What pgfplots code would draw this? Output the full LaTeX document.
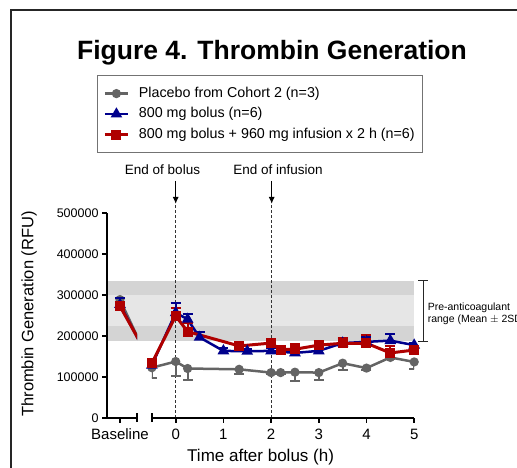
\documentclass[border=0pt]{standalone}
\usepackage{pgfplots}
\usepackage{pgfplotstable}
\pgfplotsset{compat=1.18}
\usepackage{fontspec}
\setmainfont{Liberation Sans}
\usetikzlibrary{arrows.meta}

\definecolor{plgray}{RGB}{100,100,100}
\definecolor{plblue}{RGB}{0,0,140}
\definecolor{plred}{RGB}{175,0,0}
\definecolor{banddark}{RGB}{212,212,212}
\definecolor{bandlight}{RGB}{230,230,230}

% t = time after bolus (h), baseline plotted at -1.168
\pgfplotstableread{
t      y      e
-1.168 288000 5000
-0.5   122000 26000
0      137000 35000
0.25   120000 28000
1.33   118000 11000
2      110000 4000
2.2    110000 4000
2.5    111000 21000
3      110000 18000
3.5    133000 17000
4      121000 4000
4.5    147000 4000
5      136000 17000
}\placebo

\pgfplotstableread{
t      y      e
-1.168 276000 15000
-0.5   128000 8000
0      256000 24000
0.25   240000 14000
0.5    196000 12000
1      163000 6000
1.5    162000 6000
2      163000 8000
2.5    158000 8000
3      163000 10000
3.5    182000 10000
4      185000 12000
4.5    188000 15000
5      177000 5000
}\bolus

\pgfplotstableread{
t      y      e
-1.168 272000 10000
-0.5   133000 10000
0      248000 20000
0.25   210000 20000
1.33   175000 8000
2      182000 11000
2.2    166000 8000
2.5    167000 12000
3      177000 10000
3.5    181500 14000
4      181500 19000
4.5    158000 17000
5      165000 5000
}\infusion

\pgfplotsset{
  common/.style={
    scale only axis, height=205pt, ymin=0, ymax=500000,
    tick align=outside, major tick length=5pt,
    axis line style={line width=2pt},
    tick style={line width=1.8pt, black},
    scaled y ticks=false,
    /pgf/number format/assume math mode=true,
    xticklabel style={font=\fontsize{15}{18}\selectfont, yshift=-2.5pt},
  },
  sgray/.style={plgray, line width=2.5pt, mark=*, mark size=3.3pt,
    mark options={solid, fill=plgray},
    error bars/.cd, y dir=minus, y explicit,
    error bar style={line width=2pt, solid},
    error mark options={rotate=90, line width=2pt, mark size=5pt}},
  sblue/.style={plblue, line width=2.5pt, mark=triangle*, mark size=4.3pt,
    mark options={solid, fill=plblue},
    error bars/.cd, y dir=plus, y explicit,
    error bar style={line width=2pt, solid},
    error mark options={rotate=90, line width=2pt, mark size=5pt}},
  sred/.style={plred, line width=3pt, mark=square*, mark size=3.5pt,
    mark options={solid, fill=plred},
    error bars/.cd, y dir=plus, y explicit,
    error bar style={line width=2pt, solid},
    error mark options={rotate=90, line width=2pt, mark size=5pt}},
}

\begin{document}
\begin{tikzpicture}
\useasboundingbox (0pt,0pt) rectangle (517pt,-468pt);

% frame
\draw[line width=1.4pt, black!85] (11pt,-470pt) -- (11pt,-10pt) -- (520pt,-10pt);

\node[font=\bfseries\fontsize{26.5}{30}\selectfont, anchor=base] at (272pt,-60pt) {Figure 4. Thrombin Generation};

% background: reference band, dashed markers
\begin{axis}[common, at={(107pt,-417.7pt)}, anchor=south west,
  width=307.2pt, xmin=-1.44, xmax=5, axis lines=none, clip=false]
  \addplot[fill=banddark, draw=none] coordinates {(-1.44,186000) (5,186000) (5,334000) (-1.44,334000)} -- cycle;
  \addplot[fill=bandlight, draw=none] coordinates {(-1.44,224000) (5,224000) (5,300000) (-1.44,300000)} -- cycle;
  \addplot[black!80, line width=0.8pt, dash pattern=on 3pt off 2pt] coordinates {(0,0) (0,523600)};
  \addplot[black!80, line width=0.8pt, dash pattern=on 3pt off 2pt] coordinates {(2,0) (2,523600)};
  % bracket for pre-anticoagulant range
  \draw[line width=0.9pt, black!85] (axis cs:5.08,334000) -- (axis cs:5.29,334000)
    (axis cs:5.19,334000) -- (axis cs:5.19,186000)
    (axis cs:5.08,186000) -- (axis cs:5.29,186000);
  \node[anchor=west, align=left, font=\fontsize{10.5}{12.5}\selectfont, inner sep=0pt]
    at (axis cs:5.28,253000) {Pre-anticoagulant\\range (Mean $\pm$ 2SD)};
\end{axis}

% arrows and labels
\draw[line width=1.3pt, -{Latex[length=7pt,width=6pt]}] (175.7pt,-181pt) -- (175.7pt,-204pt);
\draw[line width=1.3pt, -{Latex[length=7pt,width=6pt]}] (271.7pt,-181pt) -- (271.7pt,-204pt);
\node[font=\fontsize{13.5}{16}\selectfont] at (162.5pt,-170pt) {End of bolus};
\node[font=\fontsize{13.5}{16}\selectfont] at (278pt,-170pt) {End of infusion};

% baseline segment
\begin{axis}[common, at={(107pt,-417.7pt)}, anchor=south west,
  width=30pt, xmin=-1.44, xmax=-0.811,
  axis x line*=bottom, axis y line*=left,
  xtick={-1.168}, xticklabels={Baseline},
  ytick={0,100000,200000,300000,400000,500000},
  yticklabel style={font=\fontsize{12.5}{15}\selectfont,
    /pgf/number format/fixed, /pgf/number format/1000 sep={}},
  restrict x to domain=-2:-0.4, clip marker paths=true]
  \addplot+[sgray] table[x=t, y=y, y error=e] {\placebo};
  \addplot+[sblue] table[x=t, y=y, y error=e] {\bolus};
  \addplot+[sred] table[x=t, y=y, y error=e] {\infusion};
  \coordinate (capA) at (rel axis cs:1,0);
\end{axis}

% time segment
\begin{axis}[common, at={(151.85pt,-417.7pt)}, anchor=south west,
  width=262.35pt, xmin=-0.5, xmax=5,
  axis x line*=bottom, axis y line=none,
  xtick={0,1,2,3,4,5},
  restrict x to domain=-0.6:6,
  legend cell align=left,
  legend style={at={(-0.209,1.672)}, anchor=north west,
    draw=black!55, line width=0.8pt,
    font=\fontsize{14.3}{16}\selectfont,
    inner xsep=6pt, inner ysep=10pt, row sep=4pt, column sep=8pt,
    nodes={inner sep=1.5pt, text height=10.5pt, text depth=3pt}},
  legend image code/.code={\draw[#1, mark repeat=2, mark phase=2]
    plot coordinates {(0pt,0pt) (11.5pt,0pt) (23pt,0pt)};}]
  \addplot+[sgray] table[x=t, y=y, y error=e] {\placebo};
  \addlegendentry{Placebo from Cohort 2 (n=3)}
  \addplot+[sblue] table[x=t, y=y, y error=e] {\bolus};
  \addlegendentry{800 mg bolus (n=6)}
  \addplot+[sred] table[x=t, y=y, y error=e] {\infusion};
  \addlegendentry{800 mg bolus + 960 mg infusion x 2 h (n=6)}
  \coordinate (capB) at (rel axis cs:0,0);
\end{axis}

\draw[line width=1.8pt] (capA) ++(0,-4.5pt) -- ++(0,9pt);
\draw[line width=1.8pt] (capB) ++(0,-4.5pt) -- ++(0,9pt);

\node[font=\fontsize{17}{20}\selectfont] at (260.6pt,-456.7pt) {Time after bolus (h)};
\node[font=\fontsize{16.5}{20}\selectfont, rotate=90] at (29pt,-314pt) {Thrombin Generation (RFU)};
\end{tikzpicture}
\end{document}
